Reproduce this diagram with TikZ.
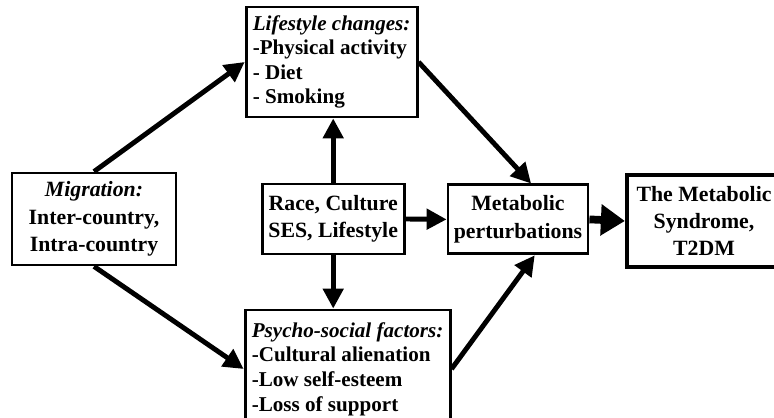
\documentclass[tikz,border=0pt]{standalone}
\usepackage{fontspec}
\setmainfont{Liberation Serif}
\usepackage{tikz}
\usetikzlibrary{
arrows.meta,
positioning,
calc
}

\begin{document}
\begin{tikzpicture}[
  box/.style={draw, line width=2pt, align=center, inner sep=2pt, font=\fontsize{15.5}{19.5}\selectfont\bfseries},
  listbox/.style={box, align=left, font=\fontsize{15}{17.5}\selectfont\bfseries},
  arrow/.style={-{Triangle[length=0.5cm,width=0.5cm]}, line width=3.5pt},
  bigarrow/.style={-{Triangle[length=0.6cm,width=0.75cm]}, line width=5.5pt}
]

% Frame
\clip (0,0) rectangle (19.35,10.425);

% Boxes
\node[box, minimum width=4.1cm, minimum height=2.3cm] (mig) at (2.35, 4.95) {\textit{Migration:}\\Inter-country,\\Intra-country};
\node[listbox, minimum width=4.275cm, minimum height=2.75cm] (life) at (8.29, 8.875) {\textit{Lifestyle changes:}\\-Physical activity\\- Diet\\- Smoking};
\node[box, minimum width=3.55cm, minimum height=1.75cm] (race) at (8.33, 4.95) {Race, Culture\\SES, Lifestyle};
\node[listbox, minimum width=5.125cm, minimum height=2.95cm] (psy) at (8.69, 1.2) {\textit{Psycho-social factors:}\\-Cultural alienation\\-Low self-esteem\\-Loss of support};
\node[box, minimum width=3.5cm, minimum height=1.725cm] (met) at (12.95, 4.94) {Metabolic\\perturbations};
\node[box, line width=3pt, minimum width=3.85cm, minimum height=2.3cm] (syn) at (17.6, 4.9) {The Metabolic\\Syndrome,\\T2DM};

% Arrows
\draw[arrow] (mig.north) -- (life.west);
\draw[arrow] (mig.south) -- (psy.west);
\draw[arrow] (race.north) -- (race.north |- life.south);
\draw[arrow] (race.south) -- (race.south |- psy.north);
\draw[arrow] (race.east) -- (met.west);
\draw[arrow] (life.east) -- (met.70);
\draw[arrow] (psy.east) -- (met.-65);
\draw[bigarrow] (met.east) -- (syn.west);

\end{tikzpicture}
\end{document}
